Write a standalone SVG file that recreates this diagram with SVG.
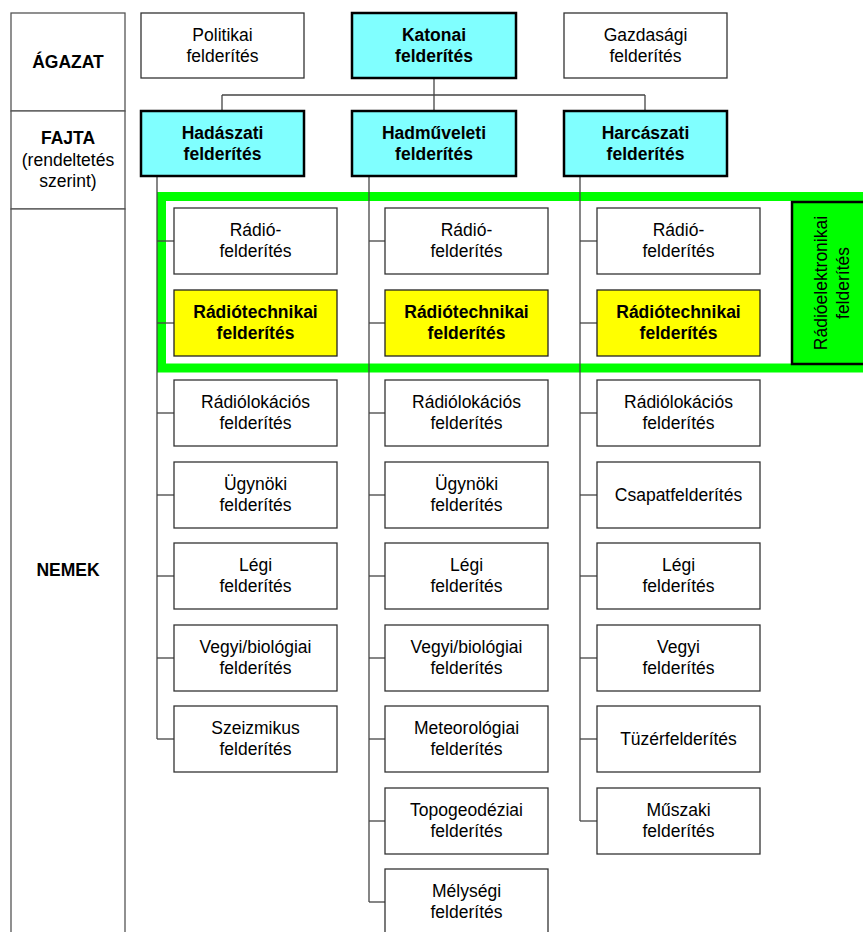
<svg xmlns="http://www.w3.org/2000/svg" width="863" height="932" viewBox="0 0 863 932">
<style>
text{font-family:"Liberation Sans",Arial,sans-serif;font-size:17.5px;text-anchor:middle;fill:#000}
.b{font-weight:bold}
.box{fill:#fff;stroke:#333;stroke-width:1.3}
.cy{fill:#80FFFF;stroke:#000;stroke-width:2.5}
.ye{fill:#FFFF00;stroke:#222;stroke-width:1.3}
.lab{fill:#fff;stroke:#555;stroke-width:1.3}
.con line{stroke:#444;stroke-width:1.3}
</style>
<rect width="863" height="932" fill="#fff"/>
<rect id="frame" x="161.5" y="196.5" width="720" height="171.5" fill="none" stroke="#00FF00" stroke-width="9"/>
<g id="connectors" class="con">
<line x1="434" y1="78" x2="434" y2="111"/>
<line x1="222" y1="95" x2="645" y2="95"/>
<line x1="222" y1="95" x2="222" y2="111"/>
<line x1="645" y1="95" x2="645" y2="111"/>
<line x1="157" y1="176" x2="157" y2="739"/>
<line x1="369" y1="176" x2="369" y2="902"/>
<line x1="580" y1="176" x2="580" y2="821"/>
<line x1="157" y1="241" x2="174" y2="241"/>
<line x1="157" y1="323" x2="174" y2="323"/>
<line x1="157" y1="413" x2="174" y2="413"/>
<line x1="157" y1="495" x2="174" y2="495"/>
<line x1="157" y1="576" x2="174" y2="576"/>
<line x1="157" y1="658" x2="174" y2="658"/>
<line x1="157" y1="739" x2="174" y2="739"/>
<line x1="369" y1="241" x2="385" y2="241"/>
<line x1="369" y1="323" x2="385" y2="323"/>
<line x1="369" y1="413" x2="385" y2="413"/>
<line x1="369" y1="495" x2="385" y2="495"/>
<line x1="369" y1="576" x2="385" y2="576"/>
<line x1="369" y1="658" x2="385" y2="658"/>
<line x1="369" y1="739" x2="385" y2="739"/>
<line x1="369" y1="821" x2="385" y2="821"/>
<line x1="369" y1="902" x2="385" y2="902"/>
<line x1="580" y1="241" x2="597" y2="241"/>
<line x1="580" y1="323" x2="597" y2="323"/>
<line x1="580" y1="413" x2="597" y2="413"/>
<line x1="580" y1="495" x2="597" y2="495"/>
<line x1="580" y1="576" x2="597" y2="576"/>
<line x1="580" y1="658" x2="597" y2="658"/>
<line x1="580" y1="739" x2="597" y2="739"/>
<line x1="580" y1="821" x2="597" y2="821"/>
</g>
<g id="row-agazat"><rect class="lab" x="11" y="13" width="114" height="98"/><text class="b" x="68" y="68">ÁGAZAT</text></g>
<g id="row-fajta"><rect class="lab" x="11" y="111" width="114" height="98"/><text class="b" x="68" y="144">FAJTA</text><text x="68" y="166">(rendeltetés</text><text x="68" y="187">szerint)</text></g>
<g id="row-nemek"><rect class="lab" x="11" y="209" width="114" height="740"/><text class="b" x="68" y="576">NEMEK</text></g>
<g id="politikai"><rect class="box" x="141" y="13" width="163" height="65"/><text x="222.5" y="41">Politikai</text><text x="222.5" y="62">felderítés</text></g>
<g id="katonai"><rect class="cy" x="352" y="13" width="164" height="65"/><text class="b" x="434" y="41">Katonai</text><text class="b" x="434" y="62">felderítés</text></g>
<g id="gazdasagi"><rect class="box" x="564" y="13" width="163" height="65"/><text x="645.5" y="41">Gazdasági</text><text x="645.5" y="62">felderítés</text></g>
<g id="hadaszati"><rect class="cy" x="141" y="111" width="163" height="65"/><text class="b" x="222.5" y="139">Hadászati</text><text class="b" x="222.5" y="160">felderítés</text></g>
<g id="hadmuveleti"><rect class="cy" x="352" y="111" width="164" height="65"/><text class="b" x="434" y="139">Hadműveleti</text><text class="b" x="434" y="160">felderítés</text></g>
<g id="harcaszati"><rect class="cy" x="564" y="111" width="163" height="65"/><text class="b" x="645.5" y="139">Harcászati</text><text class="b" x="645.5" y="160">felderítés</text></g>
<g id="c1-radio"><rect class="box" x="174" y="208" width="163" height="66"/><text x="255.5" y="236">Rádió-</text><text x="255.5" y="257">felderítés</text></g>
<g id="c1-radiotech"><rect class="ye" x="174" y="290" width="163" height="66"/><text class="b" x="255.5" y="318">Rádiótechnikai</text><text class="b" x="255.5" y="339">felderítés</text></g>
<g id="c1-lokacios"><rect class="box" x="174" y="380" width="163" height="66"/><text x="255.5" y="408">Rádiólokációs</text><text x="255.5" y="429">felderítés</text></g>
<g id="c1-ugynoki"><rect class="box" x="174" y="462" width="163" height="66"/><text x="255.5" y="490">Ügynöki</text><text x="255.5" y="511">felderítés</text></g>
<g id="c1-legi"><rect class="box" x="174" y="543" width="163" height="66"/><text x="255.5" y="571">Légi</text><text x="255.5" y="592">felderítés</text></g>
<g id="c1-vegyi"><rect class="box" x="174" y="625" width="163" height="66"/><text x="255.5" y="653">Vegyi/biológiai</text><text x="255.5" y="674">felderítés</text></g>
<g id="c1-szeizmikus"><rect class="box" x="174" y="706" width="163" height="66"/><text x="255.5" y="734">Szeizmikus</text><text x="255.5" y="755">felderítés</text></g>
<g id="c2-radio"><rect class="box" x="385" y="208" width="163" height="66"/><text x="466.5" y="236">Rádió-</text><text x="466.5" y="257">felderítés</text></g>
<g id="c2-radiotech"><rect class="ye" x="385" y="290" width="163" height="66"/><text class="b" x="466.5" y="318">Rádiótechnikai</text><text class="b" x="466.5" y="339">felderítés</text></g>
<g id="c2-lokacios"><rect class="box" x="385" y="380" width="163" height="66"/><text x="466.5" y="408">Rádiólokációs</text><text x="466.5" y="429">felderítés</text></g>
<g id="c2-ugynoki"><rect class="box" x="385" y="462" width="163" height="66"/><text x="466.5" y="490">Ügynöki</text><text x="466.5" y="511">felderítés</text></g>
<g id="c2-legi"><rect class="box" x="385" y="543" width="163" height="66"/><text x="466.5" y="571">Légi</text><text x="466.5" y="592">felderítés</text></g>
<g id="c2-vegyi"><rect class="box" x="385" y="625" width="163" height="66"/><text x="466.5" y="653">Vegyi/biológiai</text><text x="466.5" y="674">felderítés</text></g>
<g id="c2-meteo"><rect class="box" x="385" y="706" width="163" height="66"/><text x="466.5" y="734">Meteorológiai</text><text x="466.5" y="755">felderítés</text></g>
<g id="c2-topo"><rect class="box" x="385" y="788" width="163" height="66"/><text x="466.5" y="816">Topogeodéziai</text><text x="466.5" y="837">felderítés</text></g>
<g id="c2-melysegi"><rect class="box" x="385" y="869" width="163" height="75"/><text x="466.5" y="897">Mélységi</text><text x="466.5" y="918">felderítés</text></g>
<g id="c3-radio"><rect class="box" x="597" y="208" width="163" height="66"/><text x="678.5" y="236">Rádió-</text><text x="678.5" y="257">felderítés</text></g>
<g id="c3-radiotech"><rect class="ye" x="597" y="290" width="163" height="66"/><text class="b" x="678.5" y="318">Rádiótechnikai</text><text class="b" x="678.5" y="339">felderítés</text></g>
<g id="c3-lokacios"><rect class="box" x="597" y="380" width="163" height="66"/><text x="678.5" y="408">Rádiólokációs</text><text x="678.5" y="429">felderítés</text></g>
<g id="c3-csapat"><rect class="box" x="597" y="462" width="163" height="66"/><text x="678.5" y="501">Csapatfelderítés</text></g>
<g id="c3-legi"><rect class="box" x="597" y="543" width="163" height="66"/><text x="678.5" y="571">Légi</text><text x="678.5" y="592">felderítés</text></g>
<g id="c3-vegyi"><rect class="box" x="597" y="625" width="163" height="66"/><text x="678.5" y="653">Vegyi</text><text x="678.5" y="674">felderítés</text></g>
<g id="c3-tuzer"><rect class="box" x="597" y="706" width="163" height="66"/><text x="678.5" y="745">Tüzérfelderítés</text></g>
<g id="c3-muszaki"><rect class="box" x="597" y="788" width="163" height="66"/><text x="678.5" y="816">Műszaki</text><text x="678.5" y="837">felderítés</text></g>
<g id="radioelektronikai"><rect x="792" y="202" width="90" height="162" fill="#00FF00" stroke="#000" stroke-width="2.5"/><text transform="translate(827,283) rotate(-90)" x="0" y="0">Rádióelektronikai</text><text transform="translate(849,283) rotate(-90)" x="0" y="0">felderítés</text></g>
</svg>
